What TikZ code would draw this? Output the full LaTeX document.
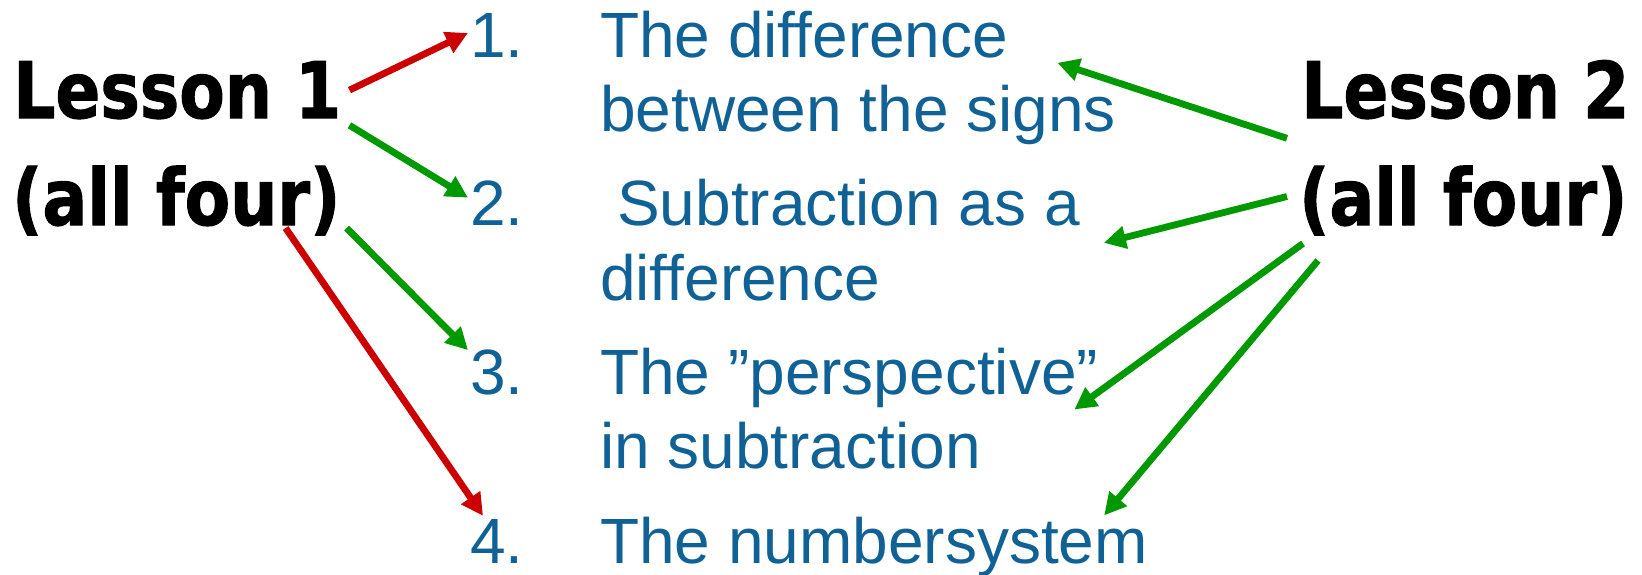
\documentclass[tikz,border=0pt]{standalone}
\usepackage{fontspec}
\setmainfont{Liberation Sans}
\newfontfamily\lessonfont[FakeStretch=0.85,BoldFeatures={FakeBold=1.3}]{DejaVu Sans}
\usetikzlibrary{arrows.meta}
\definecolor{itemblue}{RGB}{16,98,150}
\definecolor{arrred}{RGB}{204,0,0}
\definecolor{arrgreen}{RGB}{0,153,0}

\begin{document}
\begin{tikzpicture}[x=1pt,y=-1pt,
  lesson/.style={anchor=base west,inner sep=0pt,font=\lessonfont\bfseries\fontsize{78}{86}\selectfont},
  item/.style={anchor=base west,inner sep=0pt,text=itemblue,font=\fontsize{64}{70}\selectfont},
  redarr/.style={draw=arrred,line width=6.8pt,-{Triangle[length=22pt,width=22pt]}},
  greenarr/.style={draw=arrgreen,line width=6.8pt,-{Triangle[length=22pt,width=22pt]}}]
\useasboundingbox (0,0) rectangle (1642,574);

% Lessons on both sides
\node[lesson] (les1) at (13,118) {Lesson 1};
\node[lesson] (all1) at (12,225) {(all four)};
\node[lesson] (les2) at (1301,118) {Lesson 2};
\node[lesson] (all2) at (1299,225) {(all four)};

% Numbers of the list
\node[item] (n1) at (470,57) {1.};
\node[item] (n2) at (470,225) {2.};
\node[item] (n3) at (470,394) {3.};
\node[item] (n4) at (470,563) {4.};

% Text of the list, one node per line
\node[item] (t1a) at (600,57) {The difference};
\node[item] (t1b) at (600,131) {between the signs};
\node[item] (t2a) at (617,225) {Subtraction as a};
\node[item] (t2b) at (600,300) {difference};
\node[item] (t3a) at (600,394) {The ”perspective”};
\node[item] (t3b) at (600,468) {in subtraction};
\node[item] (t4) at (600,563) {The numbersystem};

% Arrows from lesson 1
\draw[redarr] ([shift={(8,0)}]les1.east) -- ([shift={(-2,-2)}]n1.west);
\draw[greenarr] ([shift={(8,6)}]les1.south east) -- ([shift={(-2,-5)}]n2.west);
\draw[greenarr] ([shift={(6,3)}]all1.base east) -- ([shift={(-2,1)}]n3.north west);
\draw[redarr] ([shift={(-55,3)}]all1.base east) -- ([shift={(13,-3)}]n4.north west);

% Arrows from lesson 2
\draw[greenarr] ([shift={(-14,19)}]les2.south west) -- ([shift={(49,5)}]t1a.south east);
\draw[greenarr] ([shift={(-12,-4)}]all2.west) -- ([shift={(24,17)}]t2a.south east);
\draw[greenarr] ([shift={(4,8)}]all2.south west) -- ([shift={(-24,2)}]t3a.south east);
\draw[greenarr] ([shift={(19,25)}]all2.south west) -- ([shift={(-44,-1)}]t4.north east);
\end{tikzpicture}
\end{document}
